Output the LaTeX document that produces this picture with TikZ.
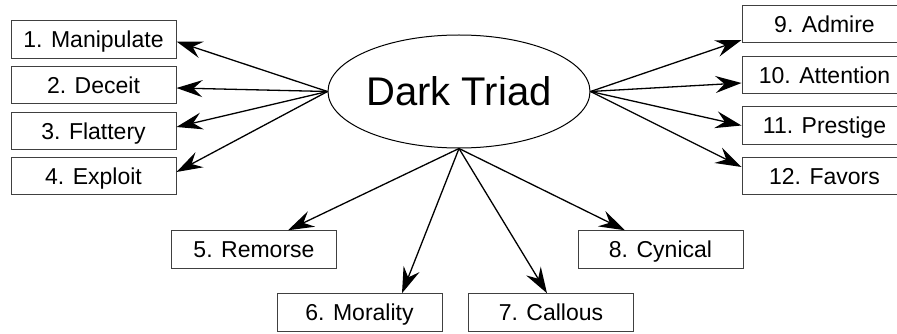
\documentclass[tikz,border=0pt]{standalone}
\usepackage{fontspec}
\setmainfont{Liberation Sans}
\usetikzlibrary{arrows.meta,shapes.geometric}
\begin{document}
\begin{tikzpicture}[x=1pt,y=-1pt,
  box/.style={draw=black!75,line width=1pt,minimum width=165pt,minimum height=37.5pt,inner sep=0pt,text height=16.5pt,text depth=0pt,font=\fontsize{23}{26}\selectfont},
  arr/.style={line width=1.3pt,-{Stealth[length=26pt,width=17pt,inset=9pt]}}]
\useasboundingbox (0,0) rectangle (897,334);
\clip (0,0) rectangle (897,334);
\node[ellipse,draw,line width=1pt,minimum width=262pt,minimum height=113pt,inner sep=0pt,text height=28.6pt,text depth=0pt,font=\fontsize{40}{44}\selectfont] (dt) at (459,91.5) {Dark Triad};
% left
\node[box] (b1) at (93.5,39.5) {1. Manipulate};
\node[box] (b2) at (93.5,85) {2. Deceit};
\node[box] (b3) at (93.5,131) {3. Flattery};
\node[box] (b4) at (93.5,176) {4. Exploit};
% right
\node[box] (b9) at (824.5,24) {9. Admire};
\node[box] (b10) at (824.5,75) {10. Attention};
\node[box] (b11) at (824.5,125.5) {11. Prestige};
\node[box] (b12) at (824.5,176) {12. Favors};
% bottom
\node[box] (b5) at (254,249.5) {5. Remorse};
\node[box] (b6) at (359.5,312.5) {6. Morality};
\node[box] (b7) at (551,312.5) {7. Callous};
\node[box] (b8) at (660.5,249.5) {8. Cynical};
% connectors
\draw[arr] (dt.west) -- ([yshift=-2pt]b1.east);
\draw[arr] (dt.west) -- ([yshift=-3pt]b2.east);
\draw[arr] (dt.west) -- ([yshift=4pt]b3.east);
\draw[arr] (dt.west) -- ([yshift=4pt]b4.east);
\draw[arr] (dt.east) -- ([yshift=-16pt]b9.west);
\draw[arr] (dt.east) -- ([yshift=-8pt]b10.west);
\draw[arr] (dt.east) -- (b11.west);
\draw[arr] (dt.east) -- ([yshift=9pt]b12.west);
\draw[arr] (dt.south) -- ([xshift=34pt]b5.north);
\draw[arr] (dt.south) -- ([xshift=42.5pt]b6.north);
\draw[arr] (dt.south) -- ([xshift=-4pt]b7.north);
\draw[arr] (dt.south) -- ([xshift=-35.5pt]b8.north);
\end{tikzpicture}
\end{document}
